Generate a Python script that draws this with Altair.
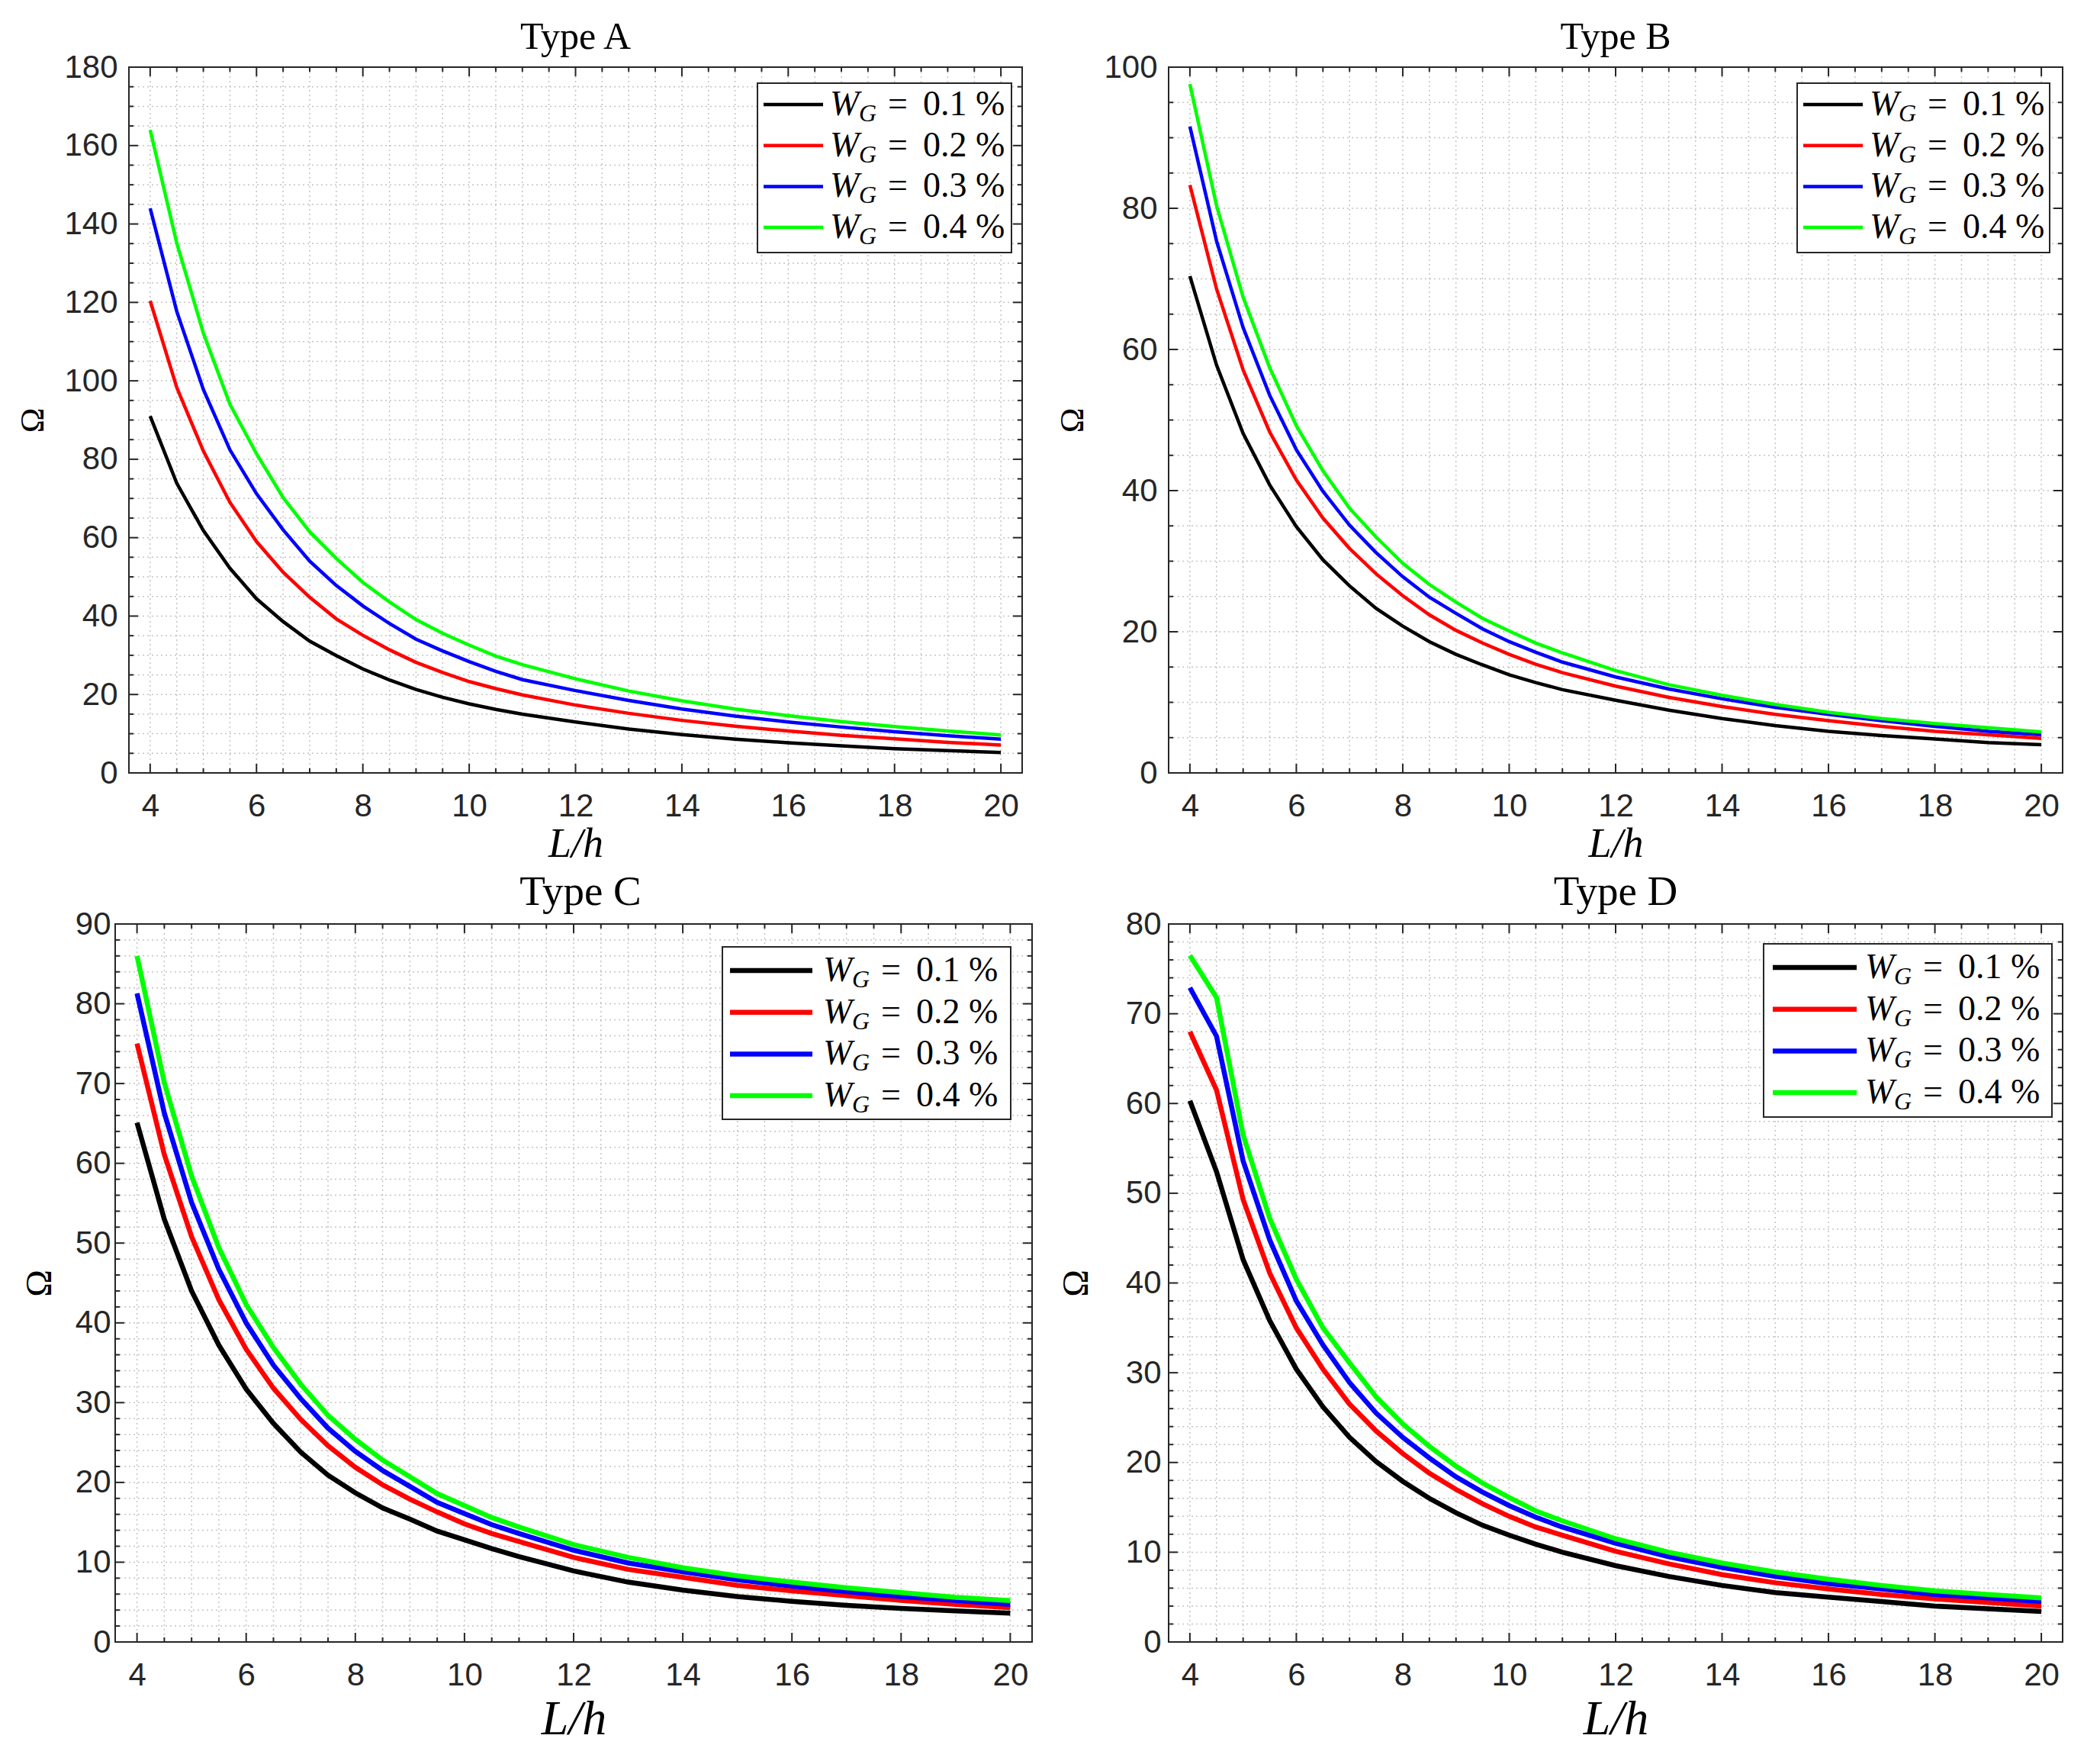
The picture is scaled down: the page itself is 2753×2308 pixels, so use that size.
import numpy as np
import pandas as pd
import altair as alt

# L/h sample points
lh = [4, 4.5, 5, 5.5, 6, 6.5, 7, 7.5, 8, 8.5, 9, 9.5, 10, 10.5, 11,
      12, 13, 14, 15, 16, 17, 18, 19, 20]
wg = [0.1, 0.2, 0.3, 0.4]
wg_labels = ["0.1 %", "0.2 %", "0.3 %", "0.4 %"]
colors = ["#000000", "#ff0000", "#0000ff", "#00ff00"]

# Type A
a_01 = [91.0, 73.9, 61.8, 52.2, 44.4, 38.6, 33.6, 29.9, 26.5, 23.7, 21.3, 19.3, 17.6, 16.2, 15.0,
        13.0, 11.2, 9.8, 8.6, 7.7, 6.9, 6.2, 5.7, 5.2]
a_02 = [120.4, 98.3, 82.1, 69.0, 59.0, 51.2, 44.8, 39.3, 35.1, 31.4, 28.2, 25.6, 23.3, 21.5, 19.9,
        17.3, 15.2, 13.4, 11.9, 10.7, 9.6, 8.7, 7.8, 7.1]
a_03 = [144.0, 117.7, 97.8, 82.4, 71.2, 62.0, 54.0, 47.8, 42.6, 38.1, 34.1, 31.1, 28.4, 25.9, 23.8,
        21.0, 18.5, 16.3, 14.5, 13.0, 11.7, 10.5, 9.5, 8.6]
a_04 = [164.0, 135.1, 112.2, 94.0, 81.4, 70.2, 61.5, 54.7, 48.6, 43.6, 39.1, 35.6, 32.6, 29.8, 27.6,
        24.0, 20.9, 18.4, 16.3, 14.6, 13.1, 11.8, 10.7, 9.7]

# Type B
b_01 = [70.4, 57.8, 48.1, 40.8, 34.9, 30.2, 26.5, 23.3, 20.8, 18.6, 16.8, 15.3, 13.9, 12.8, 11.8,
        10.3, 8.9, 7.7, 6.7, 5.9, 5.3, 4.8, 4.3, 4.0]
b_02 = [83.3, 68.6, 57.1, 48.3, 41.5, 36.1, 31.8, 28.2, 25.1, 22.4, 20.2, 18.4, 16.8, 15.4, 14.2,
        12.3, 10.7, 9.4, 8.3, 7.4, 6.6, 5.9, 5.4, 4.9]
b_03 = [91.6, 75.4, 63.1, 53.5, 45.8, 39.9, 35.1, 31.2, 27.8, 24.9, 22.6, 20.4, 18.6, 17.1, 15.7,
        13.6, 11.9, 10.5, 9.3, 8.3, 7.4, 6.6, 5.9, 5.4]
b_04 = [97.6, 80.4, 67.4, 57.4, 49.2, 42.8, 37.5, 33.4, 29.7, 26.7, 24.2, 21.9, 20.1, 18.4, 17.0,
        14.5, 12.5, 11.0, 9.7, 8.6, 7.7, 7.0, 6.4, 5.8]

# Type C
c_01 = [65.1, 53.0, 44.0, 37.2, 31.7, 27.4, 23.8, 20.9, 18.7, 16.8, 15.4, 13.9, 12.8, 11.7, 10.7,
        8.9, 7.5, 6.5, 5.7, 5.1, 4.6, 4.2, 3.9, 3.6]
c_02 = [75.0, 61.1, 50.8, 42.9, 36.7, 31.8, 27.9, 24.6, 21.9, 19.7, 17.9, 16.3, 14.8, 13.6, 12.6,
        10.6, 9.1, 8.1, 7.1, 6.4, 5.8, 5.2, 4.7, 4.3]
c_03 = [81.3, 66.3, 55.1, 46.7, 40.0, 34.7, 30.5, 26.8, 23.9, 21.5, 19.5, 17.5, 16.1, 14.7, 13.6,
        11.5, 9.9, 8.8, 7.8, 7.0, 6.3, 5.7, 5.2, 4.7]
c_04 = [86.0, 70.1, 58.4, 49.4, 42.3, 36.9, 32.3, 28.4, 25.4, 22.8, 20.7, 18.6, 17.1, 15.6, 14.4,
        12.2, 10.6, 9.3, 8.3, 7.5, 6.8, 6.2, 5.6, 5.2]

# Type D
d_01 = [60.3, 52.4, 42.6, 35.8, 30.4, 26.2, 22.8, 20.1, 17.9, 16.0, 14.4, 13.0, 11.9, 10.9, 10.0,
        8.5, 7.3, 6.3, 5.5, 5.0, 4.5, 4.0, 3.7, 3.4]
d_02 = [68.0, 61.5, 49.3, 41.1, 35.0, 30.4, 26.5, 23.5, 21.0, 18.8, 17.0, 15.4, 14.0, 12.8, 11.9,
        10.1, 8.7, 7.5, 6.6, 5.9, 5.3, 4.8, 4.4, 4.0]
d_03 = [72.9, 67.5, 53.6, 44.8, 38.0, 33.1, 28.9, 25.5, 22.8, 20.5, 18.4, 16.7, 15.2, 13.9, 12.8,
        11.0, 9.5, 8.3, 7.3, 6.5, 5.9, 5.3, 4.9, 4.5]
d_04 = [76.5, 71.8, 56.5, 47.2, 40.4, 35.0, 31.1, 27.3, 24.3, 21.8, 19.6, 17.7, 16.1, 14.6, 13.5,
        11.5, 10.0, 8.8, 7.8, 7.0, 6.3, 5.7, 5.3, 4.9]

x_major = [4, 6, 8, 10, 12, 14, 16, 18, 20]

TICK_FONT = "Liberation Sans"
SERIF = "Liberation Serif"
FRAME = "#262626"
GRID = "#c4c4c4"


def long_frame(cols):
    return pd.DataFrame({
        "lh": lh * len(cols),
        "omega": sum(cols, []),
        "series": np.repeat(wg_labels, len(lh)),
    })


legend_df = pd.DataFrame({"series": wg_labels, "row": range(len(wg)), "num": wg_labels})


def panel(title, cols, ydom, ystep, yminor, xdom, w, h, lw, fs, leg, x0=0):
    # x0 < 0 lets a panel's box start left of the shared column origin
    xl, xr = x0, x0 + w
    xs = alt.Scale(domain=xdom, range=[xl, xr], nice=False, zero=False)
    ys = alt.Scale(domain=ydom, nice=False, zero=False)
    cs = alt.Scale(domain=wg_labels, range=colors)

    all_x = [float(v) for v in np.arange(3.5, 21.0, 0.5) if xdom[0] < v < xdom[1]]
    xmaj = [v for v in all_x if v in x_major]
    xmin = [v for v in all_x if v not in x_major]
    all_y = [float(v) for v in np.arange(0, ydom[1] + 0.1, yminor)]
    ymaj = [v for v in all_y if v % ystep == 0]
    ymin = [v for v in all_y if v % ystep != 0]

    # one axis object shared by every layer, so the merged axis keeps it
    xa = alt.Axis(
        values=xmaj, format="d", title="L/h", grid=False, ticks=False, tickSize=0,
        domain=False, labelFont=TICK_FONT, labelFontSize=42, labelColor=FRAME,
        labelPadding=23, labelFlush=False, titleFont=SERIF, titleFontStyle="italic",
        titleFontWeight="normal", titleFontSize=fs["xl"], titleColor="black",
        titlePadding=fs["xp"])
    ya = alt.Axis(
        values=ymaj, format="d", title="Ω", grid=False, ticks=False, tickSize=0,
        domain=False, labelFont=TICK_FONT, labelFontSize=42, labelColor=FRAME,
        labelPadding=fs["lp"], labelFlush=False, titleFont=SERIF,
        titleFontWeight="normal", titleFontSize=fs["yl"], titleColor="black",
        titlePadding=fs["tp"], offset=-x0)

    def X(f):
        return alt.X(f, scale=xs, axis=xa)

    def Y(f):
        return alt.Y(f, scale=ys, axis=ya)

    grid_x = alt.Chart(pd.DataFrame({"v": all_x})).mark_rule(
        color=GRID, strokeWidth=1.5, strokeDash=[2, 4]
    ).encode(x=X("v:Q"))
    grid_y = alt.Chart(pd.DataFrame({"v": all_y[1:-1]})).mark_rule(
        color=GRID, strokeWidth=1.5, strokeDash=[2, 4]
    ).encode(y=Y("v:Q"), x=alt.value(xl), x2=alt.value(xr))

    lines = alt.Chart(long_frame(cols)).mark_line(strokeWidth=lw).encode(
        x=X("lh:Q"),
        y=Y("omega:Q"),
        color=alt.Color("series:N", scale=cs, legend=None),
    )

    # inward ticks on all four sides
    ticks = []
    for vals, ln in [(xmaj, 12), (xmin, 6)]:
        d = alt.Chart(pd.DataFrame({"v": vals}))
        ticks.append(d.mark_rule(color=FRAME, strokeWidth=2).encode(
            x=X("v:Q"), y=alt.value(h), y2=alt.value(h - ln)))
        ticks.append(d.mark_rule(color=FRAME, strokeWidth=2).encode(
            x=X("v:Q"), y=alt.value(0), y2=alt.value(ln)))
    for vals, ln in [(ymaj, 12), (ymin, 6)]:
        d = alt.Chart(pd.DataFrame({"v": vals}))
        ticks.append(d.mark_rule(color=FRAME, strokeWidth=2).encode(
            y=Y("v:Q"), x=alt.value(xl), x2=alt.value(xl + ln)))
        ticks.append(d.mark_rule(color=FRAME, strokeWidth=2).encode(
            y=Y("v:Q"), x=alt.value(xr), x2=alt.value(xr - ln)))

    one = pd.DataFrame({"k": [0]})
    frame = alt.Chart(one).mark_rect(
        fillOpacity=0, stroke=FRAME, strokeWidth=2
    ).encode(x=alt.value(xl), x2=alt.value(xr), y=alt.value(0), y2=alt.value(h))

    # legend box drawn by hand so that W_G can carry its subscript
    box = alt.Chart(one).mark_rect(
        fill="white", stroke=FRAME, strokeWidth=2
    ).encode(x=alt.value(xl + leg["bx"][0]), x2=alt.value(xl + leg["bx"][1]),
             y=alt.value(leg["by"][0]), y2=alt.value(leg["by"][1]))
    base = alt.Chart(legend_df).transform_calculate(
        py=f"{leg['y0']} + datum.row * {leg['step']}")
    py = alt.Y("py:Q", scale=None, axis=None)
    tx = xl + leg["tx"]
    leg_line = base.mark_rule(strokeWidth=lw).encode(
        x=alt.value(xl + leg["lx"][0]), x2=alt.value(xl + leg["lx"][1]), y=py,
        color=alt.Color("series:N", scale=cs, legend=None))
    txt = dict(font=SERIF, align="left", baseline="alphabetic", color="black")
    leg_w = base.mark_text(fontSize=46, fontStyle="italic", dy=14, **txt).encode(
        x=alt.value(tx), y=py, text=alt.value("W"))
    leg_g = base.mark_text(fontSize=32, fontStyle="italic", dy=22, **txt).encode(
        x=alt.value(tx + 38), y=py, text=alt.value("G"))
    leg_eq = base.mark_text(fontSize=46, dy=14, **txt).encode(
        x=alt.value(tx + 76), y=py, text=alt.value("="))
    leg_num = base.mark_text(fontSize=46, dy=14, **txt).encode(
        x=alt.value(tx + 122), y=py, text=alt.Text("num:N"))

    return alt.layer(
        grid_x, grid_y, lines, box, leg_line, leg_w, leg_g, leg_eq, leg_num, *ticks, frame
    ).properties(
        width=xr, height=h,
        title=alt.TitleParams(text=title, font=SERIF, fontSize=fs["t"], fontWeight="normal",
                              color="black", offset=fs["to"], anchor="middle"),
    )


fs_top = {"t": 50, "to": -7, "xl": 54, "xp": 2, "yl": 44, "lp": 15, "tp": 18}
fs_c = {"t": 55, "to": -8, "xl": 64, "xp": 5, "yl": 48, "lp": 6, "tp": 22}
fs_d = {"t": 55, "to": -8, "xl": 64, "xp": 5, "yl": 48, "lp": 10, "tp": 40}

pa = panel("Type A", [a_01, a_02, a_03, a_04], [0, 180], 20, 5, [3.6, 20.4], 1171, 925, 4.5, fs_top,
           {"bx": [824, 1157], "by": [21, 243], "y0": 49, "step": 53.7, "lx": [832, 910], "tx": 919})
pb = panel("Type B", [b_01, b_02, b_03, b_04], [0, 100], 20, 5, [3.6, 20.4], 1172, 925, 4.5, fs_top,
           {"bx": [824, 1155], "by": [21, 243], "y0": 49, "step": 53.7, "lx": [832, 910], "tx": 919})
pc = panel("Type C", [c_01, c_02, c_03, c_04], [0, 90], 10, 2, [3.6, 20.4], 1202, 941, 6.5, fs_c,
           {"bx": [796, 1174], "by": [30, 256], "y0": 61, "step": 54.7, "lx": [806, 914], "tx": 928},
           x0=-18)
pd_ = panel("Type D", [d_01, d_02, d_03, d_04], [0, 80], 10, 2, [3.6, 20.4], 1172, 941, 6.5, fs_d,
            {"bx": [780, 1158], "by": [26, 253], "y0": 57, "step": 54.7, "lx": [792, 902], "tx": 913})

chart = alt.concat(
    pa, pb, pc, pd_, columns=2,
    spacing={"row": 9, "column": 13},
).properties(
    padding={"left": 13, "top": 16, "right": 10, "bottom": 10},
    background="white",
).configure_view(strokeWidth=0)

chart.save("out.html", embed_options={"renderer": "svg", "actions": False})
